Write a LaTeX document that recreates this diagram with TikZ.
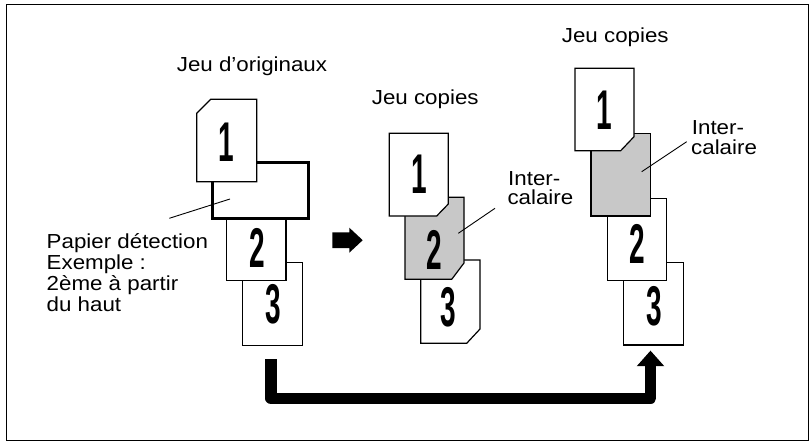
\documentclass[tikz,border=0pt]{standalone}
\usepackage{fontspec}
\setmainfont{Liberation Sans}[FakeStretch=1.1]
\newfontfamily\digitfont{Liberation Sans}[FakeStretch=0.5]
\definecolor{intergray}{RGB}{200,200,200}
\begin{document}
\begin{tikzpicture}[x=1pt,y=-1pt,
  page/.style={fill=white, draw=black, line width=1.2pt, line join=miter},
  graypage/.style={page, fill=intergray},
  lbl/.style={font=\fontsize{20.3}{21}\selectfont, inner sep=0pt, anchor=base west},
  num/.style={font=\digitfont\bfseries\fontsize{56}{56}\selectfont, inner sep=0pt},
  leader/.style={line width=0.9pt},
  bigarrow/.style={line width=11.5pt, line join=round, line cap=butt}]
\useasboundingbox (0,0) rectangle (812,442);
\draw[line width=1.3pt] (6.5,4.5) rectangle (808.5,440.5);

% ---- left stack: originals
\filldraw[page] (242.7,262.3) rectangle (302.7,345.7);
\filldraw[page] (226.7,218.3) rectangle (286,280.7);
\filldraw[page, line width=2.6pt] (212.3,162.7) rectangle (308.3,218.3);
\filldraw[page] (196.7,113.3) -- (210.7,99.3) -- (256.7,99.3) -- (256.7,181.7) -- (196.7,181.7) -- cycle;
\node[num] (o1) at (226.7,142) {1};
\node[num] (o2) at (257,247.5) {2};
\node[num] (o3) at (273,304.5) {3};

\node[lbl] (torig) at (176.7,71.7) {Jeu d’originaux};
\node[lbl] (pap1) at (46.5,248.7) {Papier détection};
\node[lbl] (pap2) at (46.5,269.7) {Exemple :};
\node[lbl] (pap3) at (46.5,290.7) {2ème à partir};
\node[lbl] (pap4) at (46.5,311.7) {du haut};
\coordinate (detpt) at (230,199);
\coordinate (detend) at (169.3,218.3);
\draw[leader] (detpt) -- (detend);

% ---- small arrow
\fill (332.3,232.3) -- (349.3,232.3) -- (349.3,227.7) -- (362.7,240.2) -- (349.3,252.7) -- (349.3,248) -- (332.3,248) -- cycle;

% ---- middle stack: copies
\filldraw[page] (420.7,260) -- (480,260) -- (480,329) -- (466.7,343.3) -- (420.7,343.3) -- cycle;
\filldraw[graypage] (405,197.3) -- (464,197.3) -- (464,263) -- (451.7,279.3) -- (405,279.3) -- cycle;
\filldraw[page] (389.3,133.3) -- (448.3,133.3) -- (448.3,204) -- (436.7,216) -- (389.3,216) -- cycle;
\node[num] (m1) at (419,174) {1};
\node[num] (m2) at (434,250) {2};
\node[num] (m3) at (448.7,307) {3};
\node[lbl] (tcop1) at (371.7,104) {Jeu copies};
\node[lbl] (mint1) at (508,185.7) {Inter-};
\node[lbl] (mint2) at (507.3,204.7) {calaire};
\coordinate (mpt) at (458.3,233.3);
\coordinate (mend) at (495,208.3);
\draw[leader] (mpt) -- (mend);

% ---- right stack: copies
\filldraw[page] (623.3,262.7) rectangle (683.3,345);
\filldraw[page] (607.7,198.3) rectangle (666.7,280.7);
\filldraw[graypage] (591,133.3) rectangle (650.7,216);
\filldraw[page] (575,68.3) -- (634,68.3) -- (634,136.7) -- (620.7,150.7) -- (575,150.7) -- cycle;
\node[num] (r1) at (604.7,110) {1};
\node[num] (r2) at (637,244) {2};
\node[num] (r3) at (654,306.7) {3};
\node[lbl] (tcop2) at (561.7,42.7) {Jeu copies};
\node[lbl] (rint1) at (691.7,134.5) {Inter-};
\node[lbl] (rint2) at (691,154) {calaire};
\coordinate (rpt) at (641.7,171.7);
\coordinate (rend) at (686.7,141.7);
\draw[leader] (rpt) -- (rend);

% ---- big return arrow
\coordinate (bstart) at (271,359.3);
\coordinate (bc1) at (271,398.3);
\coordinate (bc2) at (650.5,398.3);
\coordinate (bhead) at (650.5,366);
\coordinate (btip) at (650.5,350.7);
\draw[bigarrow] (bstart) -- (bc1) -- (bc2) -- (bhead);
\fill (636.7,366.2) -- (btip) -- (664.3,366.2) -- cycle;
\end{tikzpicture}
\end{document}
